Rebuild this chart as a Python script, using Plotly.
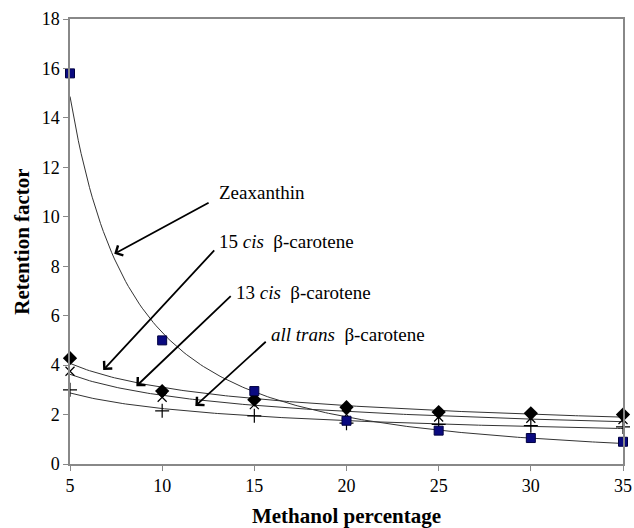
import numpy as np
import plotly.graph_objects as go

methanol = [5, 10, 15, 20, 25, 30, 35]
zeaxanthin = [15.8, 5.0, 2.95, 1.75, 1.35, 1.05, 0.9]
cis15 = [4.28, 2.95, 2.6, 2.3, 2.1, 2.05, 2.0]
cis13 = [3.75, 2.7, 2.4, 2.0, 1.9, 1.85, 1.8]
alltrans = [3.0, 2.15, 1.95, 1.65, 1.6, 1.55, 1.5]

x_ticks = [5, 10, 15, 20, 25, 30, 35]
y_ticks = [0, 2, 4, 6, 8, 10, 12, 14, 16, 18]

FONT = "Liberation Serif"
fig = go.Figure()

def power_fit(xs, ys):
    b, a = np.polyfit(np.log(xs), np.log(ys), 1)
    xx = np.linspace(min(xs), max(xs), 200)
    return xx, np.exp(a) * xx ** b

for ys in [zeaxanthin, cis15, cis13, alltrans]:
    xx, yy = power_fit(methanol, ys)
    fig.add_trace(go.Scatter(x=xx, y=yy, mode="lines",
                             line=dict(color="#333333", width=1),
                             showlegend=False, hoverinfo="skip"))

fig.add_trace(go.Scatter(x=methanol, y=cis15, mode="markers", cliponaxis=False,
                         marker=dict(symbol="diamond", size=11, color="black"),
                         showlegend=False))
fig.add_trace(go.Scatter(x=methanol, y=cis13, mode="markers", cliponaxis=False,
                         marker=dict(symbol="x-thin-open", size=9, color="black",
                                     line=dict(color="black", width=1.2)),
                         showlegend=False))
fig.add_trace(go.Scatter(x=methanol, y=alltrans, mode="markers", cliponaxis=False,
                         marker=dict(symbol="cross-thin-open", size=10, color="black",
                                     line=dict(color="black", width=1.2)),
                         showlegend=False))
fig.add_trace(go.Scatter(x=methanol, y=zeaxanthin, mode="markers", cliponaxis=False,
                         marker=dict(symbol="square", size=9, color="#0a0a80",
                                     line=dict(color="#000040", width=1)),
                         showlegend=False))

labels = [
    ("Zeaxanthin", 13.0, 11.0, 12.6, 10.6, 7.4, 8.5),
    ("15 <i>cis</i>  β-carotene", 13.0, 9.0, 12.9, 8.7, 6.8, 3.8),
    ("13 <i>cis</i>  β-carotene", 13.9, 6.95, 13.8, 6.85, 8.6, 3.15),
    ("<i>all trans</i>  β-carotene", 15.8, 5.25, 15.7, 5.0, 11.8, 2.35),
]
for text, tx, ty, ax, ay, hx, hy in labels:
    fig.add_annotation(x=tx, y=ty, text=text, showarrow=False, xanchor="left",
                       yanchor="middle", font=dict(family=FONT, size=19, color="black"))
    fig.add_annotation(x=hx, y=hy, ax=ax, ay=ay, axref="x", ayref="y",
                       xref="x", yref="y", text="", showarrow=True,
                       arrowhead=4, arrowsize=1.2, arrowwidth=1.8, arrowcolor="black")

fig.update_layout(
    width=634, height=528,
    margin=dict(l=70, r=11, t=19, b=64, autoexpand=False),
    paper_bgcolor="white", plot_bgcolor="white",
    font=dict(family=FONT, size=18, color="black"),
    xaxis=dict(range=[5, 35], tickvals=x_ticks, showgrid=False, zeroline=False,
               showline=True, linecolor="#888888", linewidth=1.5, mirror=True,
               ticks="outside", ticklen=5, tickcolor="#888888", automargin=False,
               tickfont=dict(family=FONT, size=18),
               title=dict(text="<b>Methanol percentage</b>",
                          font=dict(family=FONT, size=21), standoff=14)),
    yaxis=dict(range=[0, 18], tickvals=y_ticks, showgrid=False, zeroline=False,
               showline=True, linecolor="#888888", linewidth=1.5, mirror=True,
               ticks="outside", ticklen=5, tickcolor="#888888", automargin=False,
               tickfont=dict(family=FONT, size=18),
               title=dict(text="<b>Retention factor</b>",
                          font=dict(family=FONT, size=21), standoff=6)),
)

fig.write_html("out.html", config={"displayModeBar": False},
               post_script="document.body.style.margin='0';document.body.style.overflow='hidden';")
